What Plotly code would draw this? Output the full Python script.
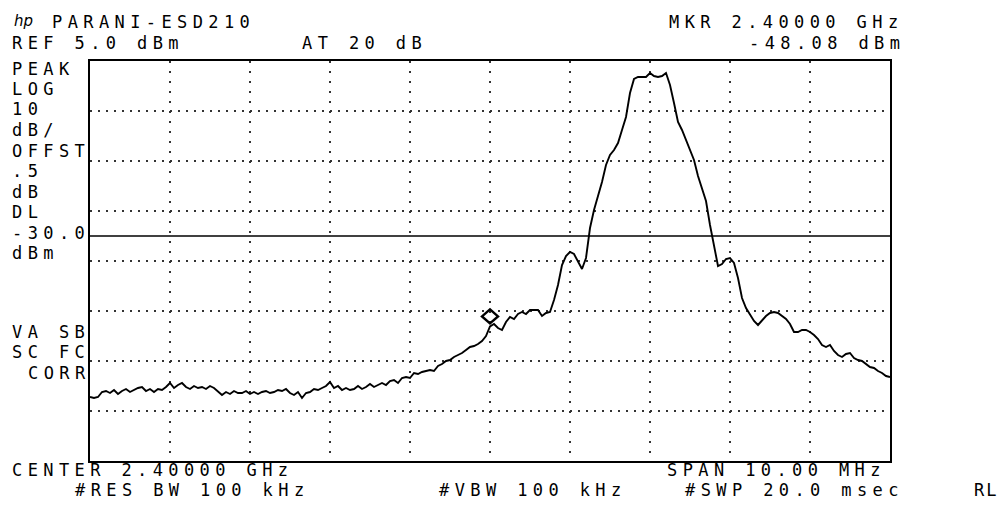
import plotly.graph_objects as go

# ---- data ----
freq_mhz = [
    2395.00, 2395.05, 2395.10, 2395.15, 2395.20, 2395.25, 2395.30, 2395.35, 2395.40, 2395.45,
    2395.50, 2395.55, 2395.60, 2395.65, 2395.70, 2395.75, 2395.80, 2395.85, 2395.90, 2395.95,
    2396.00, 2396.05, 2396.10, 2396.15, 2396.20, 2396.25, 2396.30, 2396.35, 2396.40, 2396.45,
    2396.50, 2396.55, 2396.60, 2396.65, 2396.70, 2396.75, 2396.80, 2396.85, 2396.90, 2396.95,
    2397.00, 2397.05, 2397.10, 2397.15, 2397.20, 2397.25, 2397.30, 2397.35, 2397.40, 2397.45,
    2397.50, 2397.55, 2397.60, 2397.65, 2397.70, 2397.75, 2397.80, 2397.85, 2397.90, 2397.95,
    2398.00, 2398.05, 2398.10, 2398.15, 2398.20, 2398.25, 2398.30, 2398.35, 2398.40, 2398.45,
    2398.50, 2398.55, 2398.60, 2398.65, 2398.70, 2398.75, 2398.80, 2398.85, 2398.90, 2398.95,
    2399.00, 2399.05, 2399.10, 2399.15, 2399.20, 2399.25, 2399.30, 2399.35, 2399.40, 2399.45,
    2399.50, 2399.55, 2399.60, 2399.65, 2399.70, 2399.75, 2399.80, 2399.85, 2399.90, 2399.95,
    2400.00, 2400.05, 2400.10, 2400.15, 2400.20, 2400.25, 2400.30, 2400.35, 2400.40, 2400.45,
    2400.50, 2400.55, 2400.60, 2400.65, 2400.70, 2400.75, 2400.80, 2400.85, 2400.90, 2400.95,
    2401.00, 2401.05, 2401.10, 2401.15, 2401.20, 2401.25, 2401.30, 2401.35, 2401.40, 2401.45,
    2401.50, 2401.55, 2401.60, 2401.65, 2401.70, 2401.75, 2401.80, 2401.85, 2401.90, 2401.95,
    2402.00, 2402.05, 2402.10, 2402.15, 2402.20, 2402.25, 2402.30, 2402.35, 2402.40, 2402.45,
    2402.50, 2402.55, 2402.60, 2402.65, 2402.70, 2402.75, 2402.80, 2402.85, 2402.90, 2402.95,
    2403.00, 2403.05, 2403.10, 2403.15, 2403.20, 2403.25, 2403.30, 2403.35, 2403.40, 2403.45,
    2403.50, 2403.55, 2403.60, 2403.65, 2403.70, 2403.75, 2403.80, 2403.85, 2403.90, 2403.95,
    2404.00, 2404.05, 2404.10, 2404.15, 2404.20, 2404.25, 2404.30, 2404.35, 2404.40, 2404.45,
    2404.50, 2404.55, 2404.60, 2404.65, 2404.70, 2404.75, 2404.80, 2404.85, 2404.90, 2404.95,
    2405.00,
]

level_dbm = [
    -62.2, -62.4, -62.2, -61.2, -61.0, -61.4, -60.8, -61.6, -61.0, -60.6,
    -61.2, -60.8, -60.4, -60.2, -61.0, -60.6, -61.2, -60.6, -60.8, -60.2,
    -59.4, -60.4, -59.8, -59.4, -60.2, -60.6, -60.0, -60.4, -60.2, -60.6,
    -60.0, -60.4, -61.2, -61.8, -61.2, -61.6, -61.0, -61.4, -61.4, -61.0,
    -61.6, -61.2, -61.6, -61.2, -61.0, -61.4, -61.2, -60.8, -61.0, -60.6,
    -61.4, -61.8, -61.2, -62.4, -61.4, -61.2, -60.6, -60.8, -60.4, -60.0,
    -59.2, -60.4, -60.0, -60.8, -60.4, -60.8, -60.6, -60.0, -60.6, -60.2,
    -59.6, -60.2, -59.8, -59.4, -59.8, -59.0, -58.8, -59.4, -58.4, -58.2,
    -58.4, -57.4, -57.6, -57.2, -57.0, -56.8, -57.0, -56.0, -55.6, -55.0,
    -54.8, -54.2, -53.8, -53.4, -52.8, -52.2, -52.0, -51.6, -51.0, -50.0,
    -48.08, -47.6, -48.4, -48.8, -47.2, -46.2, -46.6, -45.6, -45.2, -45.6,
    -44.8, -44.8, -44.8, -46.0, -45.4, -45.2, -42.8, -39.8, -35.8, -34.0,
    -33.2, -33.6, -35.2, -36.6, -34.4, -28.4, -24.8, -22.0, -19.2, -15.8,
    -13.8, -12.8, -11.4, -8.8, -6.2, -1.4, 1.4, 1.8, 1.8, 1.8,
    2.6, 2.0, 1.8, 2.0, 2.6, 0.2, -3.4, -7.2, -8.8, -10.8,
    -12.8, -14.8, -18.0, -20.4, -23.0, -27.8, -31.8, -36.0, -35.6, -34.6,
    -34.4, -35.4, -38.4, -42.4, -44.4, -45.8, -47.0, -47.8, -46.8, -46.0,
    -45.4, -45.2, -45.4, -46.0, -46.6, -47.6, -49.2, -49.2, -48.8, -48.8,
    -49.2, -49.8, -50.6, -51.8, -52.2, -51.8, -53.0, -53.8, -54.2, -53.6,
    -53.4, -54.4, -54.8, -55.0, -55.6, -56.2, -56.4, -57.0, -57.4, -58.0,
    -58.2,
]

ref_level_dbm = 5.0
db_per_div = 10
n_ydiv = 8
center_mhz = 2400.0
span_mhz = 10.0
display_line_dbm = -30.0
marker_freq_mhz = 2400.0
marker_level_dbm = -48.08

title_text = "PARANI-ESD210"
ref_text = "REF 5.0 dBm"
atten_text = "AT 20 dB"
mkr_freq_text = "MKR 2.40000 GHz"
mkr_level_text = "-48.08 dBm"
left_labels = ["PEAK", "LOG", "10", "dB/", "OFFST", ".5", "dB", "DL", "-30.0", "dBm"]
status_labels = ["VA SB", "SC FC", "CORR"]
center_text = "CENTER 2.40000 GHz"
span_text = "SPAN 10.00 MHz"
rbw_text = "#RES BW 100 kHz"
vbw_text = "#VBW 100 kHz"
swp_text = "#SWP 20.0 msec"
rl_text = "RL"

assert len(freq_mhz) == len(level_dbm)

# ---- figure ----
W, H = 1000, 507
L, R, T, B = 90, 890, 61, 461

x_lo = center_mhz - span_mhz / 2
x_hi = center_mhz + span_mhz / 2
y_hi = ref_level_dbm
y_lo = ref_level_dbm - db_per_div * n_ydiv

fig = go.Figure()
fig.add_trace(go.Scatter(
    x=freq_mhz, y=level_dbm, mode="lines",
    line=dict(color="black", width=1.9), hoverinfo="skip", showlegend=False))
fig.add_trace(go.Scatter(
    x=[x_lo, x_hi], y=[display_line_dbm, display_line_dbm], mode="lines",
    line=dict(color="black", width=1.6), hoverinfo="skip", showlegend=False))

# marker diamond drawn just above the marker point
fig.add_shape(type="path", xref="x", yref="y",
              xsizemode="pixel", ysizemode="pixel",
              xanchor=marker_freq_mhz, yanchor=marker_level_dbm,
              path="M 0,3 L 8,10 L 0,17 L -8,10 Z",
              line=dict(color="black", width=2.4))

FONT = "DejaVu Sans Mono"
FS = 17
SP = 5.4


def mono(s, sp=SP):
    return f'<span style="letter-spacing:{sp}px">{s}</span>'


def px2paper(px, py):
    return (px - L) / (R - L), (B - py) / (B - T)


def label(text, px, py, size=FS, sp=SP):
    xp, yp = px2paper(px, py)
    fig.add_annotation(x=xp, y=yp, xref="paper", yref="paper",
                       text=mono(text, sp), showarrow=False,
                       xanchor="left", yanchor="middle",
                       font=dict(family=FONT, size=size, color="black"))


# hp logo approximation
xp, yp = px2paper(12, 21)
fig.add_annotation(x=xp, y=yp, xref="paper", yref="paper", text="<i>hp</i>",
                   showarrow=False, xanchor="left", yanchor="middle",
                   font=dict(family="DejaVu Sans", size=15, color="black"))

label(title_text, 50, 21.5)
label(ref_text, 10, 42.5)
label(atten_text, 300, 42.5)
label(mkr_freq_text, 667, 21.5)
label(mkr_level_text, 747, 42.5)
for i, t in enumerate(left_labels):
    label(t, 10, 68.5 + 20.5 * i)
label(status_labels[0], 10, 331.5)
label(status_labels[1], 10, 352)
label(status_labels[2], 26, 372.5)
label(center_text, 10, 470)
label(span_text, 665, 470)
label(rbw_text, 73, 490)
label(vbw_text, 437, 490)
label(swp_text, 683, 490)
label(rl_text, 972, 490, sp=2)

fig.update_xaxes(range=[x_lo, x_hi], tick0=x_lo, dtick=span_mhz / 10,
                 showticklabels=False, ticks="", zeroline=False,
                 showgrid=True, gridcolor="#333333", gridwidth=2, griddash="2px,8px",
                 showline=True, mirror=True, linecolor="black", linewidth=2)
fig.update_yaxes(range=[y_lo, y_hi], tick0=y_lo, dtick=db_per_div,
                 showticklabels=False, ticks="", zeroline=False,
                 showgrid=True, gridcolor="#333333", gridwidth=2, griddash="2px,6px",
                 showline=True, mirror=True, linecolor="black", linewidth=2)

fig.update_layout(width=W, height=H,
                  margin=dict(l=L, r=W - R, t=T, b=H - B, pad=0),
                  paper_bgcolor="white", plot_bgcolor="white",
                  showlegend=False)

fig.write_html("out.html", config={"displayModeBar": False},
               post_script="document.body.style.margin='0px';document.body.style.overflow='hidden';")
